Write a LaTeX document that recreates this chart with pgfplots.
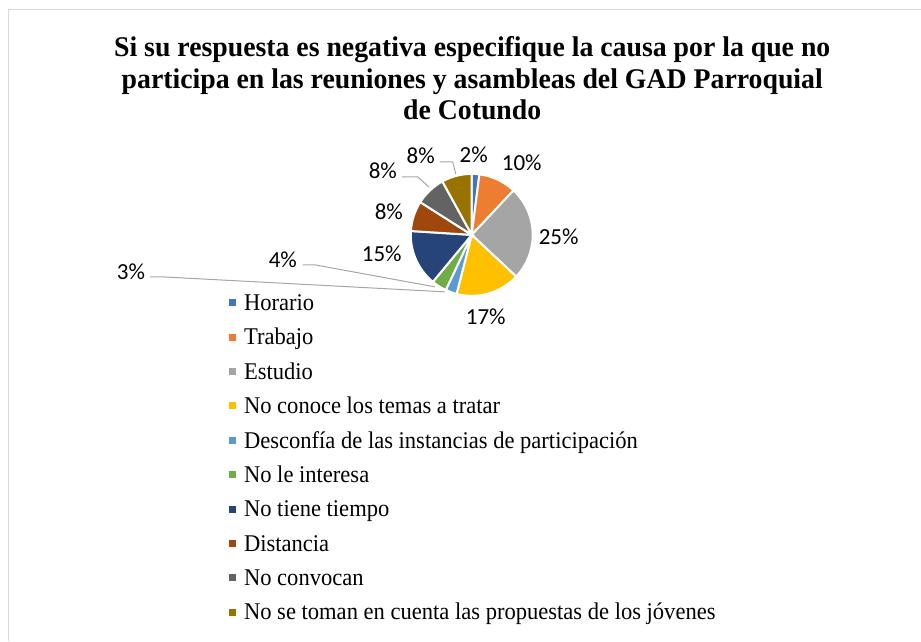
\documentclass[border=0pt]{standalone}
\usepackage{pgfplots}
\pgfplotsset{compat=1.18}
\usepackage{fontspec}
\setmainfont{Liberation Serif}
\newfontfamily\labfont{Carlito}
\newfontfamily\titlefont[FakeStretch=0.975]{Liberation Serif}
\newfontfamily\legfont[FakeStretch=0.94]{Liberation Serif}
\definecolor{c1}{HTML}{4472C4}
\definecolor{c2}{HTML}{ED7D31}
\definecolor{c3}{HTML}{A5A5A5}
\definecolor{c4}{HTML}{FFC000}
\definecolor{c5}{HTML}{5B9BD5}
\definecolor{c6}{HTML}{70AD47}
\definecolor{c7}{HTML}{264478}
\definecolor{c8}{HTML}{9E480E}
\definecolor{c9}{HTML}{636363}
\definecolor{c10}{HTML}{997300}
\definecolor{leader}{HTML}{A6A6A6}
\definecolor{frame}{HTML}{D9D9D9}
\begin{document}
\begin{tikzpicture}
\begin{axis}[width=921pt,height=641pt,scale only axis,
  xmin=0,xmax=921,ymin=-641,ymax=0,hide axis,clip=false]
% full canvas
\path (axis cs:0,0) rectangle (axis cs:921,-641);
% chart frame
\addplot[draw=frame, line width=1pt] coordinates {(8.5,-641) (8.5,-10) (921,-10)};
% pie slices (percentages)
\gdef\cum{0}
\foreach \v/\c in {2/c1,10/c2,25/c3,17/c4,3/c5,4/c6,15/c7,8/c8,8/c9,8/c10}{
  \pgfmathsetmacro\a{90-3.6*\cum}
  \pgfmathsetmacro\b{90-3.6*(\cum+\v)}
  \edef\temp{\noexpand\fill[\c, draw=white, line width=2pt] (axis cs:472,-235) -- ++(\a:61pt) arc[start angle=\a, end angle=\b, radius=61pt] -- cycle;}
  \temp
  \pgfmathsetmacro\newcum{\cum+\v}
  \global\let\cum\newcum
}
% leader lines
\addplot[draw=leader, line width=1pt] coordinates {(150,-277) (162,-277) (445,-292)};
\addplot[draw=leader, line width=1pt] coordinates {(303,-265) (315,-265) (435,-287)};
\addplot[draw=leader, line width=1pt] coordinates {(402,-177) (418,-177) (429,-187)};
\addplot[draw=leader, line width=1pt] coordinates {(440,-162) (453,-162) (456,-174)};
% data labels
\begin{scope}[every node/.style={font=\labfont\fontsize{23}{25}\selectfont, inner sep=0pt}]
\node at (axis cs:474,-155) {2\%};
\node at (axis cs:522,-163) {10\%};
\node at (axis cs:559,-237) {25\%};
\node at (axis cs:486,-317) {17\%};
\node at (axis cs:131,-272) {3\%};
\node at (axis cs:283,-260) {4\%};
\node at (axis cs:382,-254) {15\%};
\node at (axis cs:389,-212) {8\%};
\node at (axis cs:383,-171) {8\%};
\node at (axis cs:421,-156) {8\%};
\end{scope}
% title
\begin{scope}[every node/.style={font=\titlefont\bfseries\fontsize{28.5}{32}\selectfont, inner sep=0pt, anchor=base}]
\node at (axis cs:472.5,-56.7) {Si su respuesta es negativa especifique la causa por la que no};
\node at (axis cs:472.5,-88.3) {participa en las reuniones y asambleas del GAD Parroquial};
\node at (axis cs:472.5,-119.9) {de Cotundo};
\end{scope}
% legend
\foreach \t/\c [count=\i from 0] in {Horario/c1,Trabajo/c2,Estudio/c3,No conoce los temas a tratar/c4,Desconfía de las instancias de participación/c5,No le interesa/c6,No tiene tiempo/c7,Distancia/c8,No convocan/c9,No se toman en cuenta las propuestas de los jóvenes/c10}{
  \pgfmathsetmacro\yb{-(310.7+34.4*\i)}
  \pgfmathsetmacro\ym{\yb+7.8}
  \edef\temp{\noexpand\node[fill=\c, minimum size=7pt, inner sep=0pt] at (axis cs:232.3,\ym) {};
    \noexpand\node[anchor=base west, inner sep=0pt, font=\noexpand\legfont\noexpand\fontsize{24}{26}\noexpand\selectfont] at (axis cs:244,\yb) {\t};}
  \temp
}
\end{axis}
\end{tikzpicture}
\end{document}
